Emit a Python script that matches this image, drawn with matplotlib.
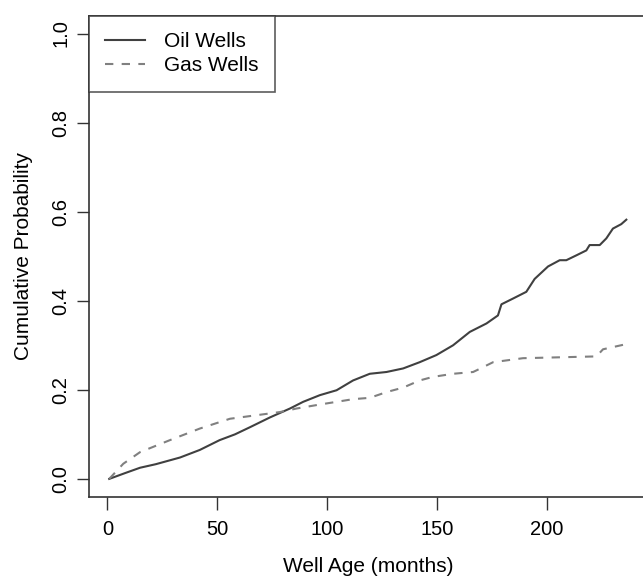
import matplotlib.pyplot as plt
import numpy as np

plt.rcParams['font.family'] = ['Liberation Sans', 'DejaVu Sans']

# ---------- data ----------
oil_age = [0.8, 8, 14.8, 22, 33, 42, 51, 58, 64.8, 73.9, 83, 89, 96.6, 104.2,
           111.7, 119.3, 126.9, 134.5, 142, 149.6, 157.2, 164.8, 172.4, 177.6,
           179.2, 184.5, 190.5, 194.3, 200.4, 205.7, 208.7, 213.3, 217.8, 219.3,
           223.9, 226.9, 229.9, 233.7, 236]
oil_prob = [0.0, 0.013, 0.025, 0.033, 0.048, 0.065, 0.087, 0.100, 0.116, 0.138,
            0.158, 0.173, 0.188, 0.199, 0.221, 0.236, 0.240, 0.248, 0.262, 0.278,
            0.300, 0.330, 0.349, 0.367, 0.392, 0.405, 0.420, 0.449, 0.477, 0.491,
            0.491, 0.502, 0.513, 0.525, 0.525, 0.540, 0.562, 0.572, 0.582]

gas_age = [0.8, 7.2, 14.8, 28.4, 42, 55.7, 73.9, 78.4, 86, 96.6, 104.2, 111.7,
           119.3, 127, 134.5, 142, 148, 157.2, 166.3, 168, 175.4, 189, 205.7,
           222.4, 225.4, 234.5]
gas_prob = [0.0, 0.034, 0.060, 0.087, 0.113, 0.135, 0.147, 0.150, 0.158, 0.167,
            0.173, 0.179, 0.182, 0.195, 0.205, 0.221, 0.229, 0.236, 0.240, 0.244,
            0.262, 0.271, 0.273, 0.275, 0.291, 0.301]

x_ticks = [0, 50, 100, 150, 200]
y_ticks = [0.0, 0.2, 0.4, 0.6, 0.8, 1.0]
y_labels = ['0.0', '0.2', '0.4', '0.6', '0.8', '1.0']

# ---------- plot ----------
fig = plt.figure(figsize=(6.43, 5.77), dpi=100)
ax = fig.add_axes([89 / 643, 80.3 / 577, 558 / 643, 481 / 577])

ax.plot(oil_age, oil_prob, color='#404040', lw=1.5, label='Oil Wells')
ax.plot(gas_age, gas_prob, color='#808080', lw=1.5, dashes=(4, 4), label='Gas Wells')

ax.set_xlim(-8.4, 245.4)
ax.set_ylim(-0.04, 1.04)
ax.set_xticks(x_ticks)
ax.set_yticks(y_ticks)
ax.set_yticklabels(y_labels, rotation=90, va='center')
ax.tick_params(labelsize=14.5, length=9, width=1, color='#333333')
ax.tick_params(axis='x', pad=8)
ax.tick_params(axis='y', pad=4.5)
for s in ax.spines.values():
    s.set_color('#333333')
    s.set_linewidth(1.2)

ax.set_xlabel('Well Age (months)', fontsize=15, labelpad=12.5)
ax.set_ylabel('Cumulative Probability', fontsize=15, labelpad=13)

leg = ax.legend(loc='upper left', borderaxespad=0, fancybox=False, fontsize=15,
                handlelength=1.92, handletextpad=0.91, borderpad=0.78,
                labelspacing=0.26)
leg.get_frame().set_edgecolor('#333333')
leg.get_frame().set_linewidth(1.2)

fig.savefig('out.png', dpi=100)
